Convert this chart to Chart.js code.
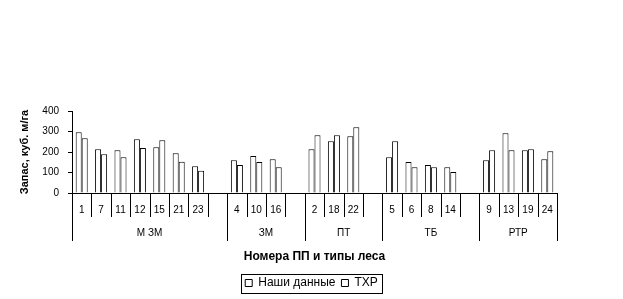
<!DOCTYPE html>
<html>
<head>
<meta charset="utf-8">
<script src="https://cdn.jsdelivr.net/npm/chart.js@4.4.1/dist/chart.umd.min.js"></script>
<style>
  html, body { margin: 0; padding: 0; background: #fff; }
  #wrap { width: 623px; height: 299px; position: relative; }
</style>
</head>
<body>
<div id="wrap"><canvas id="stockChart"></canvas></div>
<script>
// forest types and sample plot numbers
const groupNames = ['М ЗМ', 'ЗМ', 'ПТ', 'ТБ', 'РТР'];
const groupPlots = [
    ['1', '7', '11', '12', '15', '21', '23'],
    ['4', '10', '16'],
    ['2', '18', '22'],
    ['5', '6', '8', '14'],
    ['9', '13', '19', '24']
];
// stock, m3/ha
const ourValues = [
    [296, 214, 209, 262, 223, 194, 131],
    [160, 180, 165],
    [214, 253, 277],
    [175, 151, 136, 126],
    [160, 291, 209, 165]
];
const txrValues = [
    [267, 189, 175, 219, 257, 152, 108],
    [136, 151, 126],
    [282, 282, 321],
    [253, 126, 126, 102],
    [209, 209, 214, 204]
];
const yTicks = [0, 100, 200, 300, 400];

// flatten, one empty slot after every group except the last
const labels = [];
const ourData = [];
const txrData = [];
const groupSpans = [];
groupPlots.forEach(function(plots, g) {
    const start = labels.length;
    plots.forEach(function(p, i) {
        labels.push(p);
        ourData.push(ourValues[g][i]);
        txrData.push(txrValues[g][i]);
    });
    if (g < groupPlots.length - 1) {
        labels.push('');
        ourData.push(null);
        txrData.push(null);
    }
    groupSpans.push([start, labels.length]);
});

const FONT = "'Liberation Sans', Arial, sans-serif";

const axisDecor = {
    id: 'axisDecor',
    afterDraw(chart) {
        const ctx = chart.ctx;
        const x = chart.scales.x;
        const area = chart.chartArea;
        const n = labels.length;
        const w = (x.right - x.left) / n;
        const base = area.bottom;
        const groupEdges = new Set();
        groupSpans.forEach(function(s) { groupEdges.add(s[0]); groupEdges.add(s[1]); });

        ctx.save();
        ctx.strokeStyle = '#000';
        ctx.lineWidth = 1;
        for (let i = 0; i <= n; i++) {
            const px = Math.round(x.left + i * w) + 0.5;
            const len = groupEdges.has(i) ? 48 : 24;
            ctx.beginPath();
            ctx.moveTo(px, base);
            ctx.lineTo(px, base + len);
            ctx.stroke();
        }
        ctx.fillStyle = '#000';
        ctx.textAlign = 'center';
        ctx.textBaseline = 'middle';
        ctx.font = '10px ' + FONT;
        labels.forEach(function(l, i) {
            if (l) ctx.fillText(l, x.left + (i + 0.5) * w, base + 17);
        });
        groupSpans.forEach(function(s, g) {
            const cx = x.left + (s[0] + s[1]) / 2 * w;
            ctx.fillText(groupNames[g], cx, base + 40);
        });

        // frame round the legend
        const boxes = chart.legend.legendHitBoxes;
        if (boxes && boxes.length) {
            const first = boxes[0];
            const last = boxes[boxes.length - 1];
            const l = Math.round(first.left - 4) + 0.5;
            const r = Math.round(last.left + last.width + 4) + 0.5;
            const t = Math.round(first.top - 3) + 0.5;
            const b = Math.round(first.top + first.height + 4) + 0.5;
            ctx.strokeRect(l, t, r - l, b - t);
        }
        ctx.restore();
    }
};

function initializeChart() {
    const ctx = document.getElementById('stockChart').getContext('2d');
    new Chart(ctx, {
        type: 'bar',
        data: {
            labels: labels,
            datasets: [{
                label: 'Наши данные',
                data: ourData,
                backgroundColor: '#fff',
                borderColor: '#000',
                borderWidth: 1
            }, {
                label: 'ТХР',
                data: txrData,
                backgroundColor: '#fff',
                borderColor: '#000',
                borderWidth: 1
            }]
        },
        options: {
            responsive: true,
            maintainAspectRatio: false,
            animation: false,
            layout: { padding: { top: 111, right: 0, bottom: 0, left: 0 } },
            datasets: { bar: { categoryPercentage: 0.62, barPercentage: 1.0 } },
            plugins: {
                tooltip: { enabled: false },
                legend: {
                    position: 'bottom',
                    labels: {
                        color: '#000',
                        boxWidth: 7,
                        boxHeight: 7,
                        padding: 6,
                        font: { family: FONT, size: 12 }
                    }
                }
            },
            scales: {
                x: {
                    ticks: { display: false },
                    grid: { display: false },
                    border: { display: true, color: '#000', width: 1 },
                    title: {
                        display: true,
                        text: 'Номера ПП и типы леса',
                        color: '#000',
                        font: { family: FONT, size: 12, weight: 'bold' },
                        padding: { top: 11, bottom: 7 }
                    },
                    afterFit: function(scale) { scale.height = 78; }
                },
                y: {
                    min: 0,
                    max: 400,
                    afterBuildTicks: function(scale) {
                        scale.ticks = yTicks.map(function(v) { return { value: v }; });
                    },
                    ticks: {
                        color: '#000',
                        padding: 9,
                        font: { family: FONT, size: 10 }
                    },
                    grid: { drawOnChartArea: false, tickLength: 4, color: '#000' },
                    border: { display: true, color: '#000', width: 1 },
                    title: {
                        display: true,
                        text: 'Запас, куб. м/га',
                        color: '#000',
                        font: { family: FONT, size: 11, weight: 'bold' },
                        padding: { top: 18, bottom: 0 }
                    },
                    afterFit: function(scale) { scale.width = 72; }
                },
                // empty right-hand margin so the legend stays centred on the page
                margin: {
                    position: 'right',
                    display: true,
                    ticks: { display: false },
                    grid: { display: false },
                    border: { display: false },
                    afterFit: function(scale) { scale.width = 66; }
                }
            }
        },
        plugins: [axisDecor]
    });
}

if (document.readyState === 'loading') {
    document.addEventListener('DOMContentLoaded', initializeChart);
} else {
    initializeChart();
}
</script>
</body>
</html>
